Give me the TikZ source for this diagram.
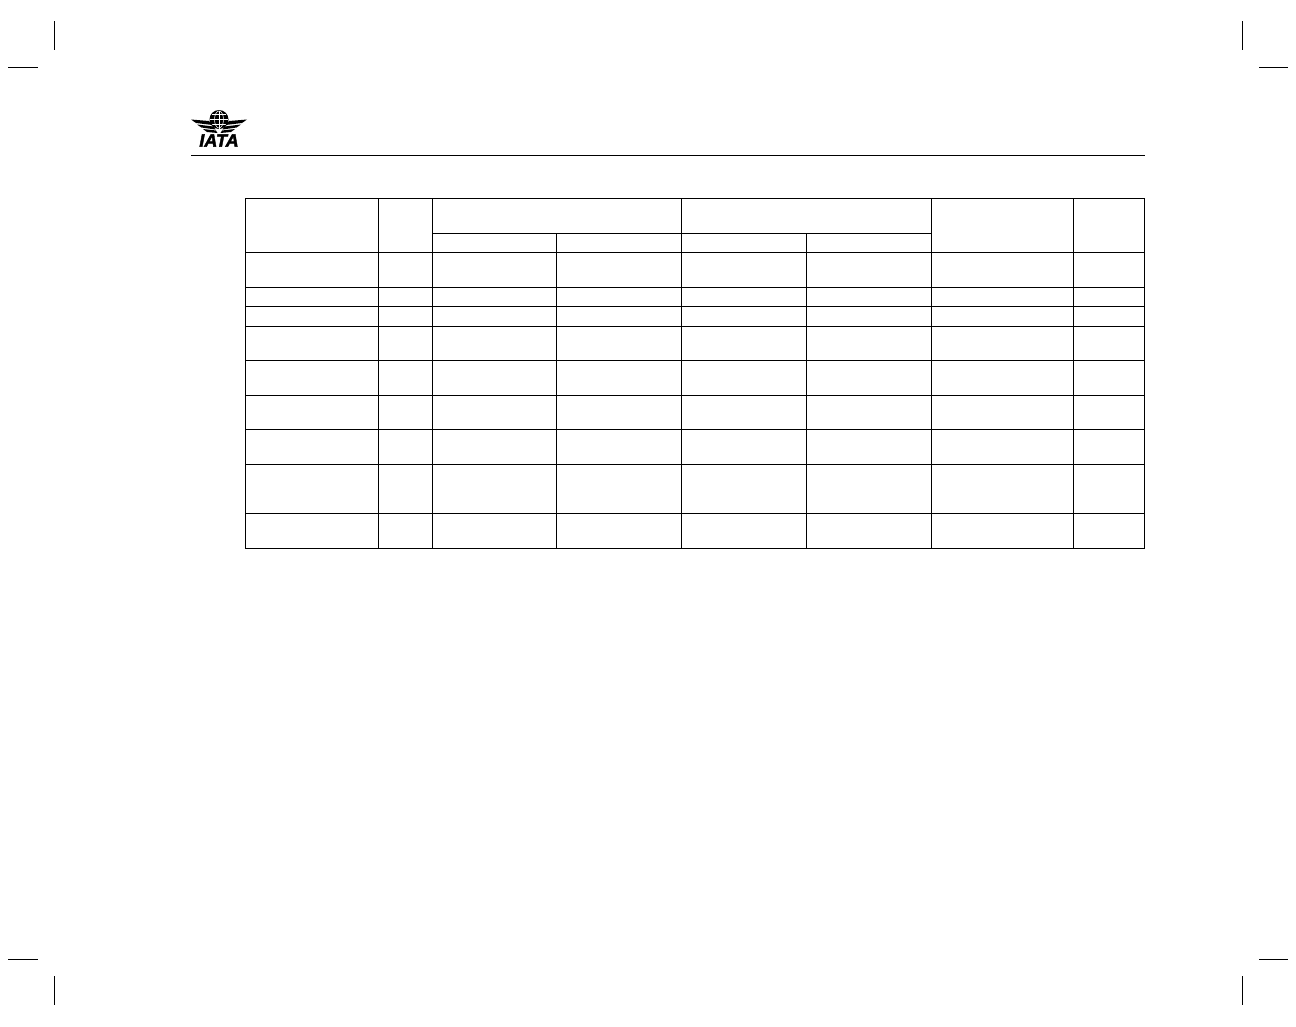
\documentclass[tikz,border=0pt]{standalone}
\usepackage{fontspec}
\setmainfont{Liberation Sans}
\newfontfamily\logofont[FakeBold=2.2,BoldFont={Liberation Sans Bold}]{Liberation Sans Bold Italic}
\tikzset{
  rule/.style={line width=0.75pt,black,line cap=rect},
  crop/.style={line width=0.75pt,black},
  wing/.style={fill=black,draw=none},
  gridline/.style={white,line width=0.55pt},
  logotext/.style={inner sep=0pt,font=\logofont\fontsize{18}{18}\selectfont}
}
\begin{document}
\begin{tikzpicture}[x=1pt,y=-1pt]
\useasboundingbox[fill=white] (0,0) rectangle (1296,1026);
% crop marks
\draw[crop] (54,21)--(54,50);
\draw[crop] (8,67)--(38,67);
\draw[crop] (1242,21)--(1242,50);
\draw[crop] (1259,67)--(1288,67);
\draw[crop] (54,976)--(54,1005);
\draw[crop] (8,959)--(38,959);
\draw[crop] (1242,976)--(1242,1005);
\draw[crop] (1259,959)--(1288,959);
% header rule
\draw[crop] (191,155.5)--(1145,155.5);
% logo
\fill (219,119.5) circle (9.5);
\draw[gridline] (219,110.5)--(219,128.5);
\draw[gridline] (210,119.5)--(228,119.5);
\draw[gridline] (219,119.5) ellipse (4.5 and 8.5);
\draw[gridline] (212,114.5)--(226,114.5) (212,124.5)--(226,124.5);
\fill[wing] (191,119.5)--(209,121)--(212.5,125)--(196,123)--cycle;
\fill[wing] (197,124.5)--(213.5,126.5)--(215.5,129.5)--(201.5,127.5)--cycle;
\fill[wing] (203,129)--(216,130.5)--(217.5,133)--(207,132)--cycle;
\fill[wing] (247,119.5)--(229,121)--(225.5,125)--(242,123)--cycle;
\fill[wing] (241,124.5)--(224.5,126.5)--(222.5,129.5)--(236.5,127.5)--cycle;
\fill[wing] (235,129)--(222,130.5)--(220.5,133)--(231,132)--cycle;
\node[logotext] (logo) at (219,140.5) {IATA};
% table
\draw[rule] (245.5,198.5) rectangle (1144.5,548.5);
\foreach \y in {252.5,287.5,306.5,326.5,360.5,395.5,429.5,464.5,513.5}
  \draw[rule] (245.5,\y)--(1144.5,\y);
\draw[rule] (432.5,233.5)--(931.5,233.5);
\foreach \x in {378.5,432.5,681.5,931.5,1073.5}
  \draw[rule] (\x,198.5)--(\x,548.5);
\foreach \x in {556.5,806.5}
  \draw[rule] (\x,233.5)--(\x,548.5);
\end{tikzpicture}
\end{document}
